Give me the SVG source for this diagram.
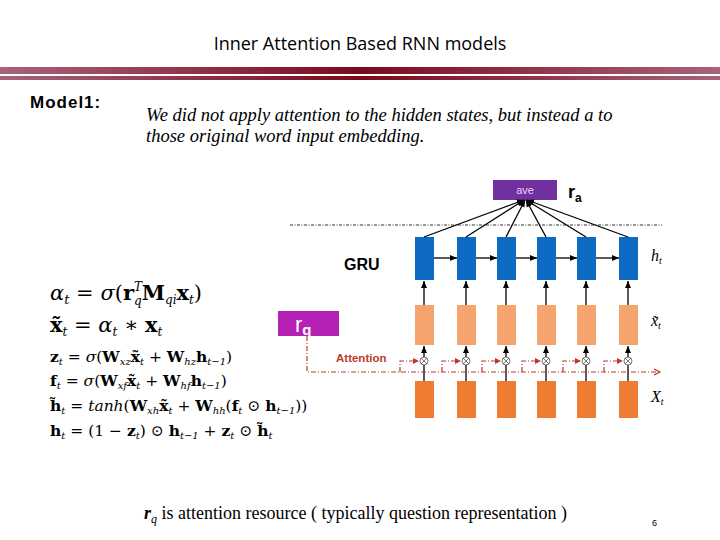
<svg xmlns="http://www.w3.org/2000/svg" width="720" height="540" viewBox="0 0 720 540">
<defs>
<linearGradient id="bar" x1="0" x2="1" y1="0" y2="0">
<stop offset="0" stop-color="#a8637a"/><stop offset="0.5" stop-color="#7a0a1e"/><stop offset="1" stop-color="#a8637a"/>
</linearGradient>
<marker id="ah" markerWidth="8" markerHeight="8" refX="7" refY="4" orient="auto" markerUnits="userSpaceOnUse"><path d="M0,1 L7,4 L0,7 z" fill="#000"/></marker>
<marker id="ar" markerWidth="8" markerHeight="8" refX="6" refY="4" orient="auto" markerUnits="userSpaceOnUse"><path d="M0,1 L6,4 L0,7" fill="none" stroke="#c0392b" stroke-width="1.2"/></marker>
<marker id="arf" markerWidth="8" markerHeight="8" refX="6" refY="4" orient="auto" markerUnits="userSpaceOnUse"><path d="M0,1 L6,4 L0,7 z" fill="#c0392b"/></marker>
</defs>
<style>
.sans{font-family:"Liberation Sans",Arial,sans-serif}
.serif{font-family:"Liberation Serif","Times New Roman",serif}
.eq{font-family:"DejaVu Serif","Liberation Serif",serif}
.h{fill:#0e6bc4}.xt{fill:#f4a46c}.x{fill:#ee7d31}
.k{stroke:#000;stroke-width:1.3;fill:none}
.red{stroke:#c0392b;stroke-width:1.2;fill:none;stroke-dasharray:5,2,1,2}
</style>
<rect width="720" height="540" fill="#fff"/>
<text x="360" y="50" text-anchor="middle" font-size="18" style="font-family:'Open Sans','Liberation Sans',sans-serif">Inner Attention Based RNN models</text>
<rect x="0" y="67" width="720" height="7" fill="url(#bar)"/>
<rect x="0" y="76" width="720" height="4" fill="url(#bar)"/>
<text x="30" y="108" class="sans" font-size="17" font-weight="bold" letter-spacing="1">Model1:</text>
<text class="serif" font-size="18.5" font-style="italic"><tspan x="146" y="121">We did not apply attention to the hidden states, but instead a to</tspan><tspan x="146" y="142">those original word input embedding.</tspan></text>

<g id="equations" class="eq">
<text x="50" y="300" font-size="21"><tspan font-style="italic">α</tspan><tspan font-style="italic" font-size="13" dy="4">t</tspan><tspan dy="-4"> = </tspan><tspan font-style="italic">σ</tspan>(<tspan font-weight="bold">r</tspan><tspan font-size="12" font-style="italic" dy="-9">T</tspan><tspan font-size="12" font-style="italic" dx="-8" dy="14">q</tspan><tspan font-weight="bold" dy="-5">M</tspan><tspan font-size="12" font-style="italic" dy="4">qi</tspan><tspan font-weight="bold" dy="-4">x</tspan><tspan font-size="12" font-style="italic" dy="4">t</tspan><tspan dy="-4">)</tspan></text>
<text x="50" y="332" font-size="21"><tspan font-weight="bold">x̃</tspan><tspan font-size="12" font-style="italic" dy="4">t</tspan><tspan dy="-4"> = </tspan><tspan font-style="italic">α</tspan><tspan font-size="12" font-style="italic" dy="4">t</tspan><tspan dy="-4"> ∗ </tspan><tspan font-weight="bold">x</tspan><tspan font-size="12" font-style="italic" dy="4">t</tspan></text>
<text x="50" y="362" font-size="15.5"><tspan font-weight="bold">z</tspan><tspan font-size="10" font-style="italic" dy="3">t</tspan><tspan dy="-3"> = </tspan><tspan font-style="italic">σ</tspan>(<tspan font-weight="bold">W</tspan><tspan font-size="10" font-style="italic" dy="3">xz</tspan><tspan font-weight="bold" dy="-3">x̃</tspan><tspan font-size="10" font-style="italic" dy="3">t</tspan><tspan dy="-3"> + </tspan><tspan font-weight="bold">W</tspan><tspan font-size="10" font-style="italic" dy="3">hz</tspan><tspan font-weight="bold" dy="-3">h</tspan><tspan font-size="10" font-style="italic" dy="3">t−1</tspan><tspan dy="-3">)</tspan></text>
<text x="50" y="386" font-size="15.5"><tspan font-weight="bold">f</tspan><tspan font-size="10" font-style="italic" dy="3">t</tspan><tspan dy="-3"> = </tspan><tspan font-style="italic">σ</tspan>(<tspan font-weight="bold">W</tspan><tspan font-size="10" font-style="italic" dy="3">xf</tspan><tspan font-weight="bold" dy="-3">x̃</tspan><tspan font-size="10" font-style="italic" dy="3">t</tspan><tspan dy="-3"> + </tspan><tspan font-weight="bold">W</tspan><tspan font-size="10" font-style="italic" dy="3">hf</tspan><tspan font-weight="bold" dy="-3">h</tspan><tspan font-size="10" font-style="italic" dy="3">t−1</tspan><tspan dy="-3">)</tspan></text>
<text x="50" y="411" font-size="15.5"><tspan font-weight="bold">h̃</tspan><tspan font-size="10" font-style="italic" dy="3">t</tspan><tspan dy="-3"> = </tspan><tspan font-style="italic">tanh</tspan>(<tspan font-weight="bold">W</tspan><tspan font-size="10" font-style="italic" dy="3">xh</tspan><tspan font-weight="bold" dy="-3">x̃</tspan><tspan font-size="10" font-style="italic" dy="3">t</tspan><tspan dy="-3"> + </tspan><tspan font-weight="bold">W</tspan><tspan font-size="10" font-style="italic" dy="3">hh</tspan><tspan dy="-3">(</tspan><tspan font-weight="bold">f</tspan><tspan font-size="10" font-style="italic" dy="3">t</tspan><tspan dy="-3"> ⊙ </tspan><tspan font-weight="bold">h</tspan><tspan font-size="10" font-style="italic" dy="3">t−1</tspan><tspan dy="-3">))</tspan></text>
<text x="50" y="436" font-size="15.5"><tspan font-weight="bold">h</tspan><tspan font-size="10" font-style="italic" dy="3">t</tspan><tspan dy="-3"> = (1 − </tspan><tspan font-weight="bold">z</tspan><tspan font-size="10" font-style="italic" dy="3">t</tspan><tspan dy="-3">) ⊙ </tspan><tspan font-weight="bold">h</tspan><tspan font-size="10" font-style="italic" dy="3">t−1</tspan><tspan dy="-3"> + </tspan><tspan font-weight="bold">z</tspan><tspan font-size="10" font-style="italic" dy="3">t</tspan><tspan dy="-3"> ⊙ </tspan><tspan font-weight="bold">h̃</tspan><tspan font-size="10" font-style="italic" dy="3">t</tspan></text>
</g>

<line x1="290" y1="225" x2="662" y2="225" stroke="#333" stroke-width="1" stroke-dasharray="3,1.5,1,1.5"/>

<g id="ave"><rect x="493" y="180" width="64" height="20" fill="#7030a0"/><text x="525" y="194" text-anchor="middle" class="sans" font-size="11" fill="#e6d6f2">ave</text></g>
<text x="568" y="198" class="sans" font-size="18" font-weight="bold">r<tspan font-size="12" dy="4">a</tspan></text>
<text x="344" y="270" class="sans" font-size="16" font-weight="bold">GRU</text>
<g id="rq"><rect x="278" y="311" width="61" height="25" fill="#b520b5"/><text x="295" y="332" class="sans" font-size="22" fill="#fff">r<tspan font-size="15" font-weight="bold" dy="3">q</tspan></text></g>
<text x="336" y="362" class="sans" font-size="11.5" font-weight="bold" fill="#c0392b">Attention</text>

<g id="labels" class="serif" font-style="italic" font-size="16">
<text x="651" y="261">h<tspan font-size="10" dy="3">t</tspan></text>
<text x="651" y="326">x̃<tspan font-size="10" dy="3">t</tspan></text>
<text x="651" y="402">X<tspan font-size="10" dy="3">t</tspan></text>
</g>

<g id="nodes">
<g id="h1"><rect class="h" x="415" y="237" width="19" height="43"/></g>
<g id="h2"><rect class="h" x="457" y="237" width="19" height="43"/></g>
<g id="h3"><rect class="h" x="497" y="237" width="19" height="43"/></g>
<g id="h4"><rect class="h" x="537" y="237" width="19" height="43"/></g>
<g id="h5"><rect class="h" x="577" y="237" width="19" height="43"/></g>
<g id="h6"><rect class="h" x="619" y="237" width="19" height="43"/></g>
<g id="xt1"><rect class="xt" x="415" y="305" width="19" height="40"/></g>
<g id="xt2"><rect class="xt" x="457" y="305" width="19" height="40"/></g>
<g id="xt3"><rect class="xt" x="497" y="305" width="19" height="40"/></g>
<g id="xt4"><rect class="xt" x="537" y="305" width="19" height="40"/></g>
<g id="xt5"><rect class="xt" x="577" y="305" width="19" height="40"/></g>
<g id="xt6"><rect class="xt" x="619" y="305" width="19" height="40"/></g>
<g id="x1"><rect class="x" x="415" y="381" width="19" height="37"/></g>
<g id="x2"><rect class="x" x="457" y="381" width="19" height="37"/></g>
<g id="x3"><rect class="x" x="497" y="381" width="19" height="37"/></g>
<g id="x4"><rect class="x" x="537" y="381" width="19" height="37"/></g>
<g id="x5"><rect class="x" x="577" y="381" width="19" height="37"/></g>
<g id="x6"><rect class="x" x="619" y="381" width="19" height="37"/></g>
</g>

<g id="connectors">
<g class="k" marker-end="url(#ah)">
<path d="M424,237 L524,200"/><path d="M466,237 L524,200"/><path d="M506,237 L525,200"/><path d="M546,237 L526,200"/><path d="M586,237 L526,200"/><path d="M628,237 L527,200"/>
<path d="M434,258 L457,258"/><path d="M476,258 L497,258"/><path d="M516,258 L537,258"/><path d="M556,258 L577,258"/><path d="M596,258 L619,258"/>
<path d="M424,305 L424,281"/><path d="M466,305 L466,281"/><path d="M506,305 L506,281"/><path d="M546,305 L546,281"/><path d="M586,305 L586,281"/><path d="M628,305 L628,281"/>
<path d="M424,357 L424,346"/><path d="M466,357 L466,346"/><path d="M506,357 L506,346"/><path d="M546,357 L546,346"/><path d="M586,357 L586,346"/><path d="M628,357 L628,346"/>
</g>
<g class="k"><path d="M424,381 V365"/><path d="M466,381 V365"/><path d="M506,381 V365"/><path d="M546,381 V365"/><path d="M586,381 V365"/><path d="M628,381 V365"/></g>
<g fill="#fff" stroke="#555" stroke-width="0.8">
<circle cx="424" cy="361" r="4"/><circle cx="466" cy="361" r="4"/><circle cx="506" cy="361" r="4"/><circle cx="546" cy="361" r="4"/><circle cx="586" cy="361" r="4"/><circle cx="628" cy="361" r="4"/>
</g>
<g stroke="#555" stroke-width="0.8">
<path d="M421,358 l6,6 M427,358 l-6,6 M463,358 l6,6 M469,358 l-6,6 M503,358 l6,6 M509,358 l-6,6 M543,358 l6,6 M549,358 l-6,6 M583,358 l6,6 M589,358 l-6,6 M625,358 l6,6 M631,358 l-6,6"/>
</g>
<path class="red" d="M307,336 V372 H660" marker-end="url(#ar)"/>
<g class="red" marker-end="url(#arf)">
<path d="M400,372 V361 H419"/><path d="M442,372 V361 H461"/><path d="M482,372 V361 H501"/><path d="M522,372 V361 H541"/><path d="M563,372 V361 H581"/><path d="M604,372 V361 H623"/>
</g>
</g>

<text x="144" y="519" class="serif" font-size="18"><tspan font-style="italic" font-weight="bold">r</tspan><tspan font-style="italic" font-size="12" dy="4">q</tspan><tspan dy="-4"> is attention resource ( typically question representation )</tspan></text>
<text x="652" y="526" class="sans" font-size="9">6</text>
</svg>
